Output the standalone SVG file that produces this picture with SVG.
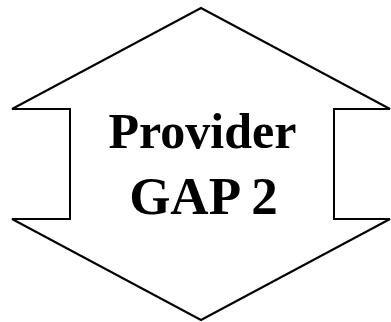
<svg xmlns="http://www.w3.org/2000/svg" width="391" height="322" viewBox="0 0 391 322">
  <style>
    .outline { fill: #ffffff; stroke: #000000; stroke-width: 2; stroke-linejoin: miter; }
    .label { font-family: "Liberation Serif", "Times New Roman", serif; font-weight: bold; fill: #000000; text-anchor: middle; }
  </style>
  <rect width="391" height="322" fill="#ffffff"/>
  <g id="provider-gap-2">
    <!-- double-headed vertical arrow -->
    <path class="outline" d="M201,8 L390,109 L334,109 L334,219 L390,219 L201,320 L12,219 L70,219 L70,109 L12,109 Z"/>
    <text class="label" x="202.5" y="148" font-size="50">Provider</text>
    <text class="label" x="203.5" y="214" font-size="53">GAP 2</text>
  </g>
</svg>
